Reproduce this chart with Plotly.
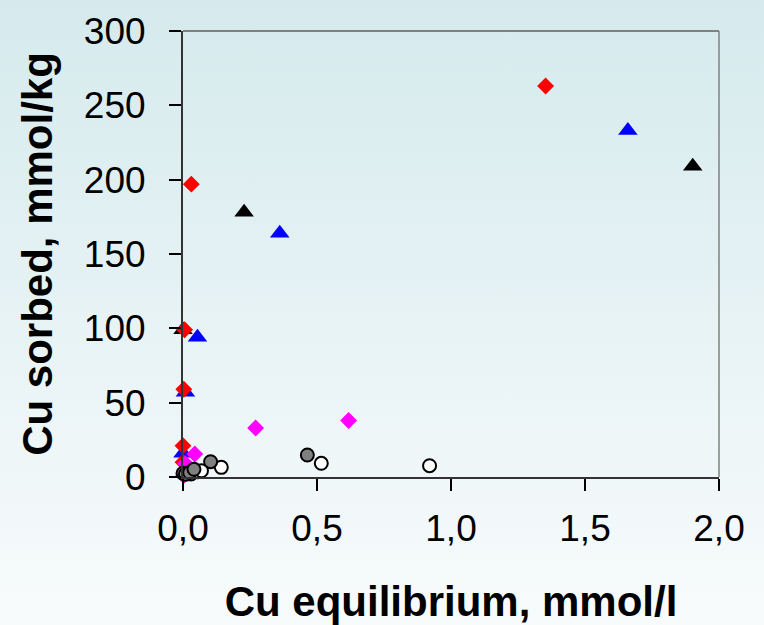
import base64
import plotly.graph_objects as go

# ---- data ----
black_x = [0.0, 0.228, 1.902]
black_y = [99, 178, 209]

blue_x = [0.0, 0.009, 0.054, 0.361, 1.66]
blue_y = [16, 57, 94, 164, 233]

red_x = [0.0, 0.0, 0.003, 0.006, 0.031, 1.353]
red_y = [10, 21, 59, 99, 197, 263]

magenta_x = [0.003, 0.009, 0.044, 0.271, 0.618]
magenta_y = [1, 9, 15.5, 33, 38]

open_x = [0.03, 0.056, 0.069, 0.143, 0.516, 0.92]
open_y = [2, 3.6, 4.2, 6.5, 9.2, 7.6]

gray_x = [0.0, 0.009, 0.025, 0.041, 0.103, 0.464]
gray_y = [2.5, 1.8, 3.0, 5.2, 10.3, 14.8]

x_ticks = [0.0, 0.5, 1.0, 1.5, 2.0]
y_ticks = [0, 50, 100, 150, 200, 250, 300]

W, H = 764, 625
L, R, T, B = 183, 45, 31, 148
pw, ph = W - L - R, H - T - B

fig = go.Figure()

def add(x, y, symbol, size, color, line_color=None, line_width=0):
    fig.add_trace(go.Scatter(
        x=x, y=y, mode="markers", cliponaxis=False, showlegend=False,
        marker=dict(symbol=symbol, size=size, color=color,
                    line=dict(color=line_color or color, width=line_width)),
    ))

add(black_x, black_y, "triangle-up", 17, "#000000")
add(blue_x, blue_y, "triangle-up", 17, "#0000FF")
add(red_x, red_y, "diamond", 13, "#FF0000")
add(magenta_x, magenta_y, "diamond", 13, "#FF00FF")
add(open_x, open_y, "circle", 13, "#FFFFFF", "#000000", 2)
add(gray_x, gray_y, "circle", 13, "#808080", "#000000", 2)

# background gradient as an SVG image
svg = ('<svg xmlns="http://www.w3.org/2000/svg" width="764" height="625">'
       '<defs><linearGradient id="g" x1="0" y1="0" x2="0" y2="1">'
       '<stop offset="0" stop-color="#D5EAED"/>'
       '<stop offset="1" stop-color="#F8FBFC"/>'
       '</linearGradient></defs>'
       '<rect width="764" height="625" fill="url(#g)"/></svg>')
src = "data:image/svg+xml;base64," + base64.b64encode(svg.encode()).decode()
fig.add_layout_image(dict(
    source=src, xref="paper", yref="paper",
    x=-L / pw, y=1 + T / ph, sizex=W / pw, sizey=H / ph,
    xanchor="left", yanchor="top", sizing="stretch", layer="below",
))

# top and right frame (gray)
fig.add_shape(type="line", xref="paper", yref="paper", x0=0, x1=1, y0=1, y1=1,
              line=dict(color="#808080", width=2))
fig.add_shape(type="line", xref="paper", yref="paper", x0=1, x1=1, y0=0, y1=1,
              line=dict(color="#808080", width=1.5))

font = "Liberation Sans, Arial, sans-serif"
fig.update_layout(
    width=W, height=H,
    margin=dict(l=L, r=R, t=T, b=B, autoexpand=False),
    paper_bgcolor="rgba(0,0,0,0)",
    plot_bgcolor="rgba(0,0,0,0)",
    separators=",.",
    font=dict(family=font, color="#000000"),
    xaxis=dict(
        range=[0, 2], tickvals=x_ticks, tickformat=".1f",
        showgrid=False, zeroline=False, automargin=False,
        showline=True, linecolor="#333333", linewidth=2,
        ticks="outside", ticklen=12, tickwidth=1.5, tickcolor="#000000",
        tickfont=dict(size=37, family=font),
        ticklabelstandoff=6,
        title=dict(text="<b>Cu equilibrium, mmol/l</b>",
                   font=dict(size=42, family=font), standoff=38),
    ),
    yaxis=dict(
        range=[0, 300], tickvals=y_ticks,
        showgrid=False, zeroline=False, automargin=False,
        showline=True, linecolor="#333333", linewidth=2,
        ticks="outside", ticklen=12, tickwidth=1.5, tickcolor="#000000",
        tickfont=dict(size=37, family=font),
        ticklabelstandoff=16,
        title=dict(text="<b>Cu sorbed, mmol/kg</b>",
                   font=dict(size=42, family=font), standoff=18),
    ),
)

fig.write_html("out.html")
